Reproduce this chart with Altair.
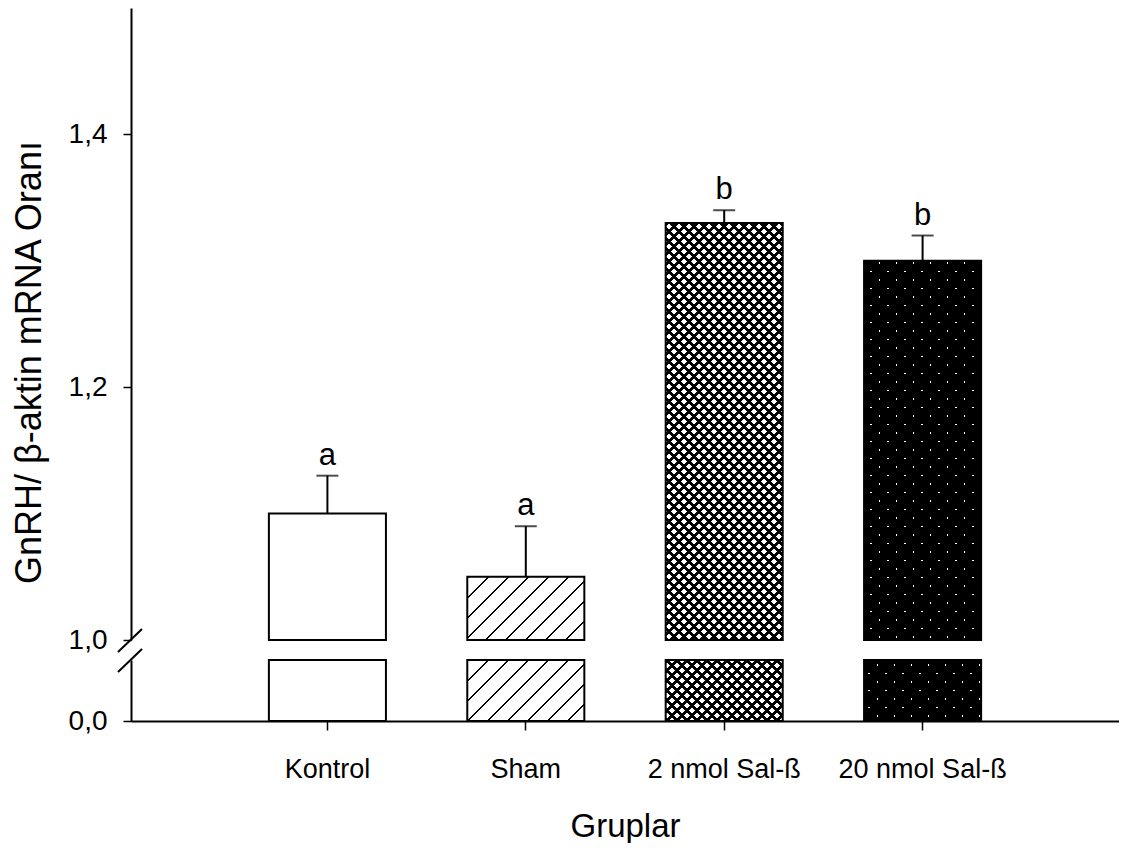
import altair as alt
import pandas as pd

# ---------------- data ----------------
groups = ["Kontrol", "Sham", "2 nmol Sal-ß", "20 nmol Sal-ß"]
means = [1.10, 1.05, 1.33, 1.30]
errors = [0.03, 0.04, 0.01, 0.02]
letters = ["a", "a", "b", "b"]
upper_ticks = [1.0, 1.2, 1.4]
lower_ticks = [0.0]

df = pd.DataFrame({"group": groups, "mean": means, "err": errors, "letter": letters})
df["upper"] = df["mean"] + df["err"]

# ---------------- layout ----------------
FONT = "Liberation Sans"
W_PLOT = 988
H_UP = 632
H_LOW = 61
UP_DOMAIN = [1.0, 1.5]
LOW_DOMAIN = [0.0, 0.2]
P_IN = 0.41
P_OUT = 0.695
step = W_PLOT / (len(groups) - P_IN + 2 * P_OUT)
BW = step * (1 - P_IN)
CLEAR = "rgba(0,0,0,0)"


def px_height(v, domain, h):
    v = min(max(v, domain[0]), domain[1])
    return (v - domain[0]) / (domain[1] - domain[0]) * h


def stripes(W, H, period, width, direction, line, bg):
    """Linear gradient with hard stops that renders 45 degree stripes."""
    L = W + H
    s = L * W / (W * W + H * H)
    if direction == "/":
        x1, y1, x2, y2 = 0, 0, s, s * H / W
    else:
        x1, y1, x2, y2 = 0, 1, s, 1 - s * H / W
    stops = []
    k = 0
    while k * period < L:
        a = k * period / L
        b = min((k * period + width) / L, 1.0)
        stops.append({"offset": round(a, 5), "color": line})
        stops.append({"offset": round(b, 5), "color": line})
        if b < 1.0:
            nxt = min((k + 1) * period / L, 1.0)
            stops.append({"offset": round(b, 5), "color": bg})
            stops.append({"offset": round(nxt, 5), "color": bg})
        k += 1
    return {"gradient": "linear", "x1": x1, "y1": y1, "x2": x2, "y2": y2, "stops": stops}


def patterns(group, W, H):
    if group == "Sham":
        return [stripes(W, H, 20, 2.6, "/", "black", CLEAR)]
    if group == "2 nmol Sal-ß":
        return [stripes(W, H, 10, 4.3, "/", "black", CLEAR),
                stripes(W, H, 10, 4.3, "\\", "black", CLEAR)]
    if group == "20 nmol Sal-ß":
        return [stripes(W, H, 17, 2.0, "/", CLEAR, "black"),
                stripes(W, H, 17, 2.0, "\\", CLEAR, "black")]
    return []


LABEL_EXPR = "replace(format(datum.value, '.1f'), '.', ',')"


def panel(domain, h, upper):
    base = alt.Chart(df).transform_calculate(
        lo=f"{domain[0]}", hi=f"min(datum.mean, {domain[1]})"
    )
    if upper:
        xaxis = None
        yaxis = alt.Axis(values=upper_ticks, labelExpr=LABEL_EXPR, title="GnRH/ β-aktin mRNA Oranı",
                         titleY=354, titlePadding=20, titleFontSize=36, titleFontWeight="normal",
                         labelFontSize=28, labelPadding=16, tickSize=8, tickWidth=1.5,
                         domainWidth=2, domainColor="black", tickColor="black", grid=False)
    else:
        xaxis = alt.Axis(title="Gruplar", labelAngle=0, labelFontSize=27, titleFontSize=33,
                         titleFontWeight="normal", tickSize=9, tickWidth=1.5, domainWidth=2,
                         domainColor="black", tickColor="black", labelPadding=26, titlePadding=28)
        yaxis = alt.Axis(values=lower_ticks, labelExpr=LABEL_EXPR, title=None,
                         labelFontSize=28, labelPadding=16, tickSize=8, tickWidth=1.5,
                         domainWidth=2, domainColor="black", tickColor="black", grid=False)
    xs = alt.Scale(paddingInner=P_IN, paddingOuter=P_OUT)
    ys = alt.Scale(domain=domain, zero=False, nice=False)
    X = alt.X("group:N", sort=groups, scale=xs, axis=xaxis)

    def Y(field):
        return alt.Y(f"{field}:Q", scale=ys, axis=yaxis)

    layers = [base.mark_bar(fill="white", strokeWidth=0).encode(x=X, y=Y("hi"), y2="lo:Q")]
    for g, m in zip(groups, means):
        H = px_height(m, domain, h)
        for grad in patterns(g, BW, H):
            layers.append(
                base.transform_filter(alt.datum.group == g)
                .mark_bar(fill=grad, strokeWidth=0)
                .encode(x=X, y=Y("hi"), y2="lo:Q")
            )
    layers.append(base.mark_bar(fillOpacity=0, stroke="black", strokeWidth=2)
                  .encode(x=X, y=Y("hi"), y2="lo:Q"))
    if upper:
        layers.append(base.mark_rule(color="black", strokeWidth=2)
                      .encode(x=X, y=Y("mean"), y2="upper:Q"))
        layers.append(base.mark_tick(color="black", size=22, thickness=2)
                      .encode(x=X, y=Y("upper")))
        layers.append(base.mark_text(fontSize=31, baseline="alphabetic", dy=-11, color="black")
                      .encode(x=X, y=Y("upper"), text="letter:N"))
        brk = alt.Chart(pd.DataFrame({"k": [0]})).mark_rule(color="black", strokeWidth=2).encode(
            x=alt.value(-13), x2=alt.value(11),
            y=alt.value(h + 12), y2=alt.value(h - 11),
        )
        brk2 = alt.Chart(pd.DataFrame({"k": [0]})).mark_rule(color="black", strokeWidth=2).encode(
            x=alt.value(-13), x2=alt.value(11),
            y=alt.value(h + 32), y2=alt.value(h + 9),
        )
        layers += [brk, brk2]
    return alt.layer(*layers).properties(width=W_PLOT, height=h)


top = panel(UP_DOMAIN, H_UP, True)
bottom = panel(LOW_DOMAIN, H_LOW, False)

chart = (
    alt.vconcat(top, bottom, spacing=20, bounds="flush")
    .properties(padding={"left": 3, "top": 0, "right": 0, "bottom": 0})
    .configure(font=FONT)
    .configure_view(stroke=None)
    .configure_axis(labelColor="black", titleColor="black", labelFont=FONT, titleFont=FONT)
    .configure_text(font=FONT)
)

chart.save("out.html", embed_options={"renderer": "svg", "actions": False})
